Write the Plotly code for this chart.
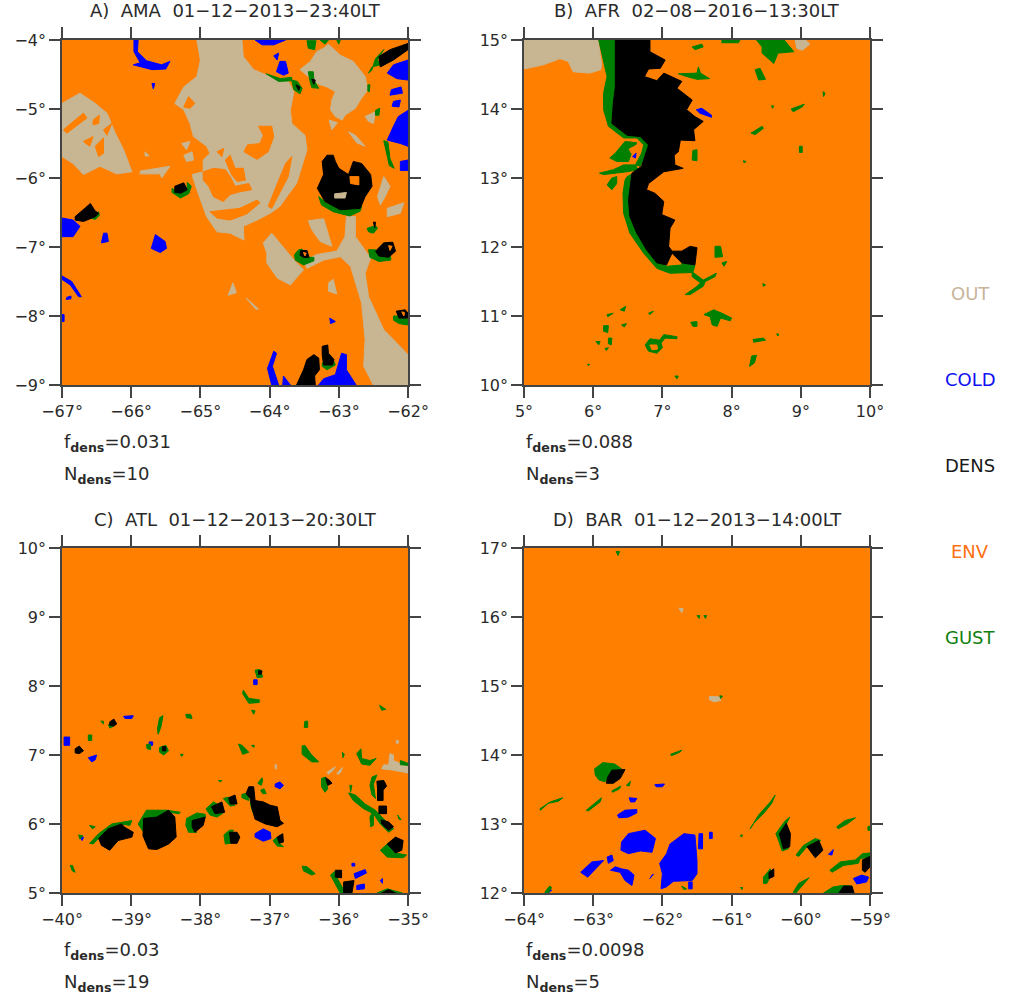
import plotly.graph_objects as go

# ---------- classes ----------
CLASS_NAMES = ["OUT", "COLD", "DENS", "ENV", "GUST"]
TAN, BLUE, BLACK, ORANGE, GREEN = "#C8B591", "#0000FF", "#000000", "#FF7F00", "#008000"

# ---------- panel A (lon, lat regions, degrees) ----------
A_OUT = [
 [(-65.05,-4),(-64.40,-4),(-64.38,-4.24),(-64.23,-4.43),(-64.04,-4.51),(-63.73,-4.60),(-63.65,-4.75),(-63.70,-5.01),(-63.68,-5.21),(-63.49,-5.38),(-63.46,-5.59),(-63.53,-5.83),(-63.61,-6.08),(-63.73,-6.24),(-63.85,-6.41),(-63.99,-6.51),(-64.18,-6.61),(-64.38,-6.70),(-64.37,-6.90),(-64.57,-6.80),(-64.76,-6.78),(-64.91,-6.56),(-65.00,-6.32),(-65.05,-6.17),(-65.12,-5.95),(-64.96,-5.91),(-64.96,-5.74),(-64.86,-5.64),(-64.91,-5.54),(-65.10,-5.40),(-65.15,-5.21),(-65.24,-5.01),(-65.37,-4.92),(-65.24,-4.68),(-65.05,-4.53),(-65.00,-4.29)],
 [(-63.15,-4.06),(-62.98,-4.22),(-62.79,-4.31),(-62.62,-4.53),(-62.58,-4.72),(-62.69,-4.87),(-62.76,-4.99),(-62.91,-5.09),(-62.95,-5.16),(-63.05,-5.11),(-63.12,-5.01),(-63.10,-4.87),(-63.05,-4.75),(-63.17,-4.68),(-63.32,-4.63),(-63.46,-4.51),(-63.56,-4.43),(-63.41,-4.31),(-63.32,-4.17),(-63.22,-4.12)],
 [(-67,-4.92),(-66.74,-4.77),(-66.52,-4.92),(-66.35,-5.06),(-66.23,-5.35),(-66.11,-5.59),(-65.99,-5.91),(-66.21,-5.94),(-66.45,-5.83),(-66.69,-5.95),(-66.84,-5.79),(-67,-5.69)],
 [(-62.89,-6.56),(-62.76,-6.56),(-62.76,-6.85),(-62.54,-7.16),(-62.62,-7.38),(-62.57,-7.72),(-62.35,-8.20),(-62,-8.56),(-62,-9),(-62.50,-9),(-62.64,-8.73),(-62.62,-8.34),(-62.67,-7.81),(-62.83,-7.28),(-62.98,-7.14),(-63.22,-7.19),(-63.46,-7.31),(-63.51,-7.21),(-63.32,-7.11),(-63.03,-7.06),(-62.91,-6.85)],
 [(-63.97,-6.80),(-63.85,-6.94),(-63.63,-7.21),(-63.51,-7.33),(-63.70,-7.55),(-63.89,-7.45),(-64.04,-7.23),(-64.04,-7.09),(-64.09,-6.94)],
 [(-63.44,-6.62),(-63.22,-6.59),(-63.10,-6.99),(-63.27,-6.92),(-63.39,-6.75)],
 [(-63.15,-7.52),(-63.08,-7.47),(-63.03,-7.68),(-63.15,-7.64)],
 [(-62.86,-5.33),(-62.76,-5.38),(-62.62,-5.54),(-62.74,-5.49)],
 [(-62.62,-5.11),(-62.47,-5.04),(-62.50,-5.21),(-62.57,-5.18)],
 [(-62.35,-5.98),(-62.26,-6.12),(-62.33,-6.27),(-62.40,-6.39),(-62.44,-6.27)],
 [(-62.30,-6.44),(-62.06,-6.36),(-62.11,-6.51),(-62.30,-6.56)],
 [(-65.87,-5.90),(-65.44,-5.83),(-65.56,-6.00),(-65.58,-5.94),(-65.87,-5.94)],
 [(-65.27,-5.50),(-65.15,-5.47),(-65.20,-5.59)],
 [(-65.24,-5.67),(-65.12,-5.62),(-65.10,-5.74),(-65.20,-5.76)],
 [(-65.80,-5.62),(-65.74,-5.68),(-65.80,-5.68)],
 [(-64.53,-7.52),(-64.48,-7.66),(-64.60,-7.70)],
 [(-64.34,-7.74),(-64.16,-7.90),(-64.20,-7.90)],
 [(-63.14,-5.16),(-63.02,-5.20),(-63.10,-5.30)],
]
A_ENV = [
 [(-64.16,-5.25),(-63.97,-5.25),(-63.94,-5.40),(-64.02,-5.62),(-64.18,-5.73),(-64.37,-5.62),(-64.32,-5.52),(-64.14,-5.50),(-64.09,-5.38)],
 [(-64.96,-5.91),(-64.81,-5.86),(-64.64,-5.88),(-64.57,-5.98),(-64.50,-6.12),(-64.30,-6.08),(-64.26,-6.17),(-64.43,-6.20),(-64.57,-6.24),(-64.67,-6.34),(-64.81,-6.27),(-64.88,-6.12),(-64.96,-6.03)],
 [(-64.86,-6.49),(-64.62,-6.46),(-64.43,-6.44),(-64.18,-6.32),(-64.14,-6.36),(-64.33,-6.52),(-64.57,-6.61),(-64.76,-6.58)],
 [(-64.64,-5.74),(-64.57,-5.67),(-64.50,-5.86),(-64.38,-5.86),(-64.35,-6.03),(-64.47,-6.05),(-64.55,-5.95)],
 [(-63.77,-5.79),(-63.85,-5.98),(-63.94,-6.22),(-64.02,-6.41),(-63.97,-6.44),(-63.85,-6.22),(-63.73,-5.98),(-63.68,-5.69)],
 [(-64.76,-5.62),(-64.66,-5.57),(-64.69,-5.69)],
 [(-65.17,-4.82),(-65.08,-4.92),(-65.15,-4.99),(-65.24,-4.97)],
 [(-66.98,-5.30),(-66.69,-5.06),(-66.64,-5.13),(-66.93,-5.35)],
 [(-66.55,-5.16),(-66.46,-5.09),(-66.47,-5.21),(-66.55,-5.23)],
 [(-66.69,-5.47),(-66.55,-5.40),(-66.60,-5.54)],
 [(-66.52,-5.54),(-66.40,-5.42),(-66.40,-5.64),(-66.47,-5.69)],
 [(-66.40,-5.30),(-66.28,-5.21),(-66.35,-5.38)],
]
A_COLD = [
 [(-65.96,-4),(-65.90,-4),(-65.91,-4.17),(-65.78,-4.30),(-65.56,-4.36),(-65.44,-4.31),(-65.50,-4.42),(-65.70,-4.43),(-65.97,-4.36),(-65.87,-4.33),(-65.96,-4.17)],
 [(-64.21,-4),(-63.77,-4),(-63.94,-4.07),(-64.11,-4.07)],
 [(-63.85,-4.31),(-63.77,-4.31),(-63.73,-4.48),(-63.80,-4.51),(-63.90,-4.46)],
 [(-63.94,-4.23),(-63.87,-4.19),(-63.89,-4.29)],
 [(-65.70,-4.63),(-65.66,-4.63),(-65.68,-4.71)],
 [(-62,-4.29),(-62.21,-4.36),(-62.30,-4.48),(-62.16,-4.56),(-62,-4.58)],
 [(-62.24,-4.72),(-62.10,-4.68),(-62.08,-4.77),(-62.26,-4.80)],
 [(-62.21,-4.89),(-62.11,-4.87),(-62.13,-4.97),(-62.23,-4.96)],
 [(-62,-5.02),(-62.14,-5.11),(-62.21,-5.25),(-62.30,-5.45),(-62.11,-5.50),(-62,-5.54)],
 [(-62.11,-5.76),(-62,-5.74),(-62,-5.89),(-62.11,-5.89)],
 [(-67,-6.58),(-66.84,-6.61),(-66.74,-6.70),(-66.84,-6.85),(-67,-6.85)],
 [(-66.40,-6.80),(-66.35,-6.80),(-66.33,-6.92),(-66.43,-6.94)],
 [(-65.65,-6.82),(-65.51,-6.92),(-65.49,-7.02),(-65.58,-7.08),(-65.71,-7.02),(-65.68,-6.92)],
 [(-67,-7.42),(-66.86,-7.50),(-66.72,-7.72),(-66.76,-7.72),(-66.88,-7.55),(-67,-7.47)],
 [(-66.93,-7.73),(-66.87,-7.71),(-66.87,-7.75),(-66.94,-7.76)],
 [(-67,-7.98),(-66.97,-7.98),(-66.97,-8.08),(-67,-8.08)],
 [(-63.13,-8.03),(-63.05,-8.08),(-63.12,-8.11)],
 [(-62.96,-8.54),(-62.89,-8.56),(-62.89,-8.78),(-62.75,-9),(-63.29,-9),(-63.22,-8.91),(-63.05,-8.85),(-63,-8.68)],
 [(-63.94,-8.51),(-63.90,-8.54),(-63.96,-8.73),(-63.87,-9),(-63.97,-9),(-64.03,-8.76)],
 [(-63.80,-8.87),(-63.70,-9),(-63.81,-9)],
]
A_GUST = [
 [(-63.29,-6.27),(-63.17,-6.37),(-62.98,-6.45),(-62.67,-6.41),(-62.69,-6.48),(-62.84,-6.55),(-63.08,-6.49),(-63.25,-6.39)],
 [(-65.41,-6.15),(-65.29,-6.23),(-65.19,-6.16),(-65.19,-6.06),(-65.13,-6.12),(-65.17,-6.23),(-65.29,-6.29),(-65.41,-6.21)],
 [(-66.59,-6.58),(-66.47,-6.49),(-66.46,-6.54),(-66.52,-6.60)],
 [(-62.52,-4.43),(-62.47,-4.27),(-62.35,-4.14),(-62.44,-4.29),(-62.40,-4.36),(-62.52,-4.39),(-62.57,-4.48)],
 [(-64.05,-4.49),(-63.84,-4.56),(-63.68,-4.54),(-63.68,-4.59),(-63.87,-4.60)],
 [(-63.68,-4.58),(-63.60,-4.60),(-63.53,-4.70),(-63.56,-4.78),(-63.65,-4.72)],
 [(-63.44,-4.46),(-63.37,-4.46),(-63.36,-4.58),(-63.29,-4.70),(-63.39,-4.69),(-63.42,-4.58)],
 [(-63.46,-4.01),(-63.33,-4.01),(-63.35,-4.14),(-63.44,-4.12)],
 [(-63.27,-4),(-63.15,-4),(-63.20,-4.06)],
 [(-63.03,-4),(-62.98,-4),(-63.00,-4.06)],
 [(-62.35,-5.46),(-62.29,-5.48),(-62.26,-5.72),(-62.20,-5.86),(-62.27,-5.82),(-62.31,-5.63)],
 [(-62.58,-4.65),(-62.55,-4.65),(-62.56,-4.75),(-62.58,-4.74)],
 [(-62.47,-5.02),(-62.41,-4.99),(-62.42,-5.09),(-62.47,-5.09)],
 [(-63.58,-7.04),(-63.53,-7.03),(-63.51,-7.15),(-63.36,-7.15),(-63.36,-7.20),(-63.51,-7.26),(-63.63,-7.19),(-63.64,-7.11)],
 [(-62.57,-7.04),(-62.47,-7.04),(-62.42,-7.13),(-62.25,-7.14),(-62.25,-7.19),(-62.42,-7.21),(-62.55,-7.15)],
 [(-62.59,-6.73),(-62.47,-6.69),(-62.44,-6.73),(-62.50,-6.80),(-62.57,-6.78)],
 [(-62.21,-8.00),(-62.13,-8.00),(-62,-8.05),(-62,-8.13),(-62.13,-8.11),(-62.21,-8.06)],
 [(-63.24,-8.68),(-63.07,-8.66),(-63.05,-8.71),(-63.17,-8.78),(-63.24,-8.73)],
]
A_DENS = [
 [(-63.17,-5.67),(-63.08,-5.67),(-63.05,-5.76),(-63,-5.86),(-62.86,-5.95),(-62.79,-5.76),(-62.67,-5.79),(-62.54,-5.95),(-62.52,-6.12),(-62.62,-6.27),(-62.69,-6.44),(-62.98,-6.46),(-63.20,-6.34),(-63.31,-6.15),(-63.22,-5.95),(-63.24,-5.76)],
 [(-65.37,-6.12),(-65.24,-6.07),(-65.19,-6.17),(-65.28,-6.22),(-65.37,-6.21)],
 [(-66.81,-6.56),(-66.69,-6.46),(-66.59,-6.37),(-66.52,-6.48),(-66.47,-6.51),(-66.52,-6.56),(-66.69,-6.63),(-66.81,-6.61)],
 [(-62.42,-4.24),(-62.26,-4.14),(-62,-4.05),(-62,-4.14),(-62.21,-4.29),(-62.40,-4.39)],
 [(-63.55,-7.05),(-63.46,-7.05),(-63.43,-7.15),(-63.51,-7.15),(-63.56,-7.12)],
 [(-62.35,-6.94),(-62.22,-6.93),(-62.18,-7.06),(-62.28,-7.15),(-62.42,-7.13),(-62.47,-7.06)],
 [(-62.17,-7.93),(-62.04,-7.91),(-62,-7.96),(-62,-8.03),(-62.13,-8.03)],
 [(-63.61,-9),(-63.51,-8.78),(-63.46,-8.63),(-63.36,-8.56),(-63.29,-8.61),(-63.28,-8.78),(-63.35,-8.87),(-63.34,-9)],
 [(-63.24,-8.44),(-63.16,-8.42),(-63.15,-8.54),(-63.07,-8.63),(-63.09,-8.71),(-63.22,-8.71),(-63.24,-8.56)],
 [(-63.62,-4.65),(-63.56,-4.68),(-63.58,-4.73)],
 [(-63.39,-4.57),(-63.34,-4.58),(-63.36,-4.64)],
 [(-62.50,-6.64),(-62.47,-6.64),(-62.48,-6.72)],
]
A_TOP_ENV = [
 [(-62.84,-5.98),(-62.71,-5.98),(-62.71,-6.10),(-62.83,-6.08)],
 [(-63.51,-7.08),(-63.47,-7.09),(-63.49,-7.13)],
 [(-62.28,-6.98),(-62.23,-6.99),(-62.26,-7.05)],
 [(-62.09,-7.94),(-62.05,-7.95),(-62.06,-8.00)],
]
A_TOP_OUT = [[(-63.06,-6.23),(-62.89,-6.21),(-62.91,-6.29),(-63.06,-6.29)]]

# ---------- panel B ----------
B_OUT = [
 [(5,15),(6.07,15),(6.12,14.66),(6.11,14.57),(5.95,14.52),(5.71,14.54),(5.64,14.69),(5.52,14.73),(5.28,14.64),(5,14.58)],
 [(8.92,15),(9.07,15),(9.13,14.94),(9.02,14.85),(8.94,14.88)],
]
B_COLD = [
 [(7.49,13.99),(7.57,14.01),(7.71,13.91),(7.71,13.88),(7.54,13.94)],
 [(6.57,13.31),(6.62,13.36),(6.61,13.29)],
]
B_GUST = [
 [(6.08,15),(6.32,15),(6.32,14.32),(6.29,14.08),(6.27,13.79),(6.49,13.62),(6.68,13.65),(6.80,13.50),(6.75,13.31),(6.68,13.17),(6.61,13.19),(6.70,13.36),(6.73,13.48),(6.63,13.58),(6.44,13.58),(6.22,13.75),(6.15,13.99),(6.15,14.23),(6.20,14.47),(6.12,14.81)],
 [(6.49,13.02),(6.58,13.07),(6.52,12.68),(6.54,12.39),(6.77,11.96),(7.06,11.72),(7.28,11.74),(7.45,11.69),(7.44,11.63),(7.11,11.62),(6.92,11.69),(6.73,11.91),(6.53,12.20),(6.44,12.49),(6.43,12.78),(6.46,12.97)],
 [(6.32,13.36),(6.46,13.53),(6.63,13.51),(6.56,13.38),(6.51,13.24),(6.34,13.24),(6.24,13.29)],
 [(6.44,13.19),(6.61,13.19),(6.65,13.12),(6.49,13.09),(6.15,13.05),(6.09,13.07),(6.29,13.12)],
 [(6.27,13.00),(6.34,13.02),(6.34,12.92),(6.27,12.83),(6.20,12.90)],
 [(7.23,14.51),(7.50,14.52),(7.52,14.61),(7.55,14.52),(7.68,14.44),(7.50,14.43),(7.35,14.47)],
 [(7.43,14.90),(7.57,14.94),(7.59,14.90),(7.47,14.86)],
 [(7.86,15),(8.12,15),(8.10,14.96),(7.86,14.96)],
 [(8.36,15),(8.76,15),(8.90,14.83),(8.67,14.81),(8.61,14.66),(8.44,14.81),(8.44,14.90)],
 [(8.34,14.57),(8.41,14.59),(8.49,14.43),(8.39,14.42)],
 [(9.32,14.25),(9.35,14.23),(9.33,14.18)],
 [(8.86,14),(9.05,14.07),(9.02,14.03),(8.89,13.96)],
 [(8.58,14.05),(8.61,14.04),(8.59,14.01)],
 [(8.28,13.65),(8.44,13.75),(8.46,13.72),(8.34,13.63)],
 [(8.98,13.46),(9.02,13.46),(9.02,13.37),(8.98,13.37)],
 [(8.17,13.25),(8.21,13.24),(8.18,13.22)],
 [(7.44,13.40),(7.50,13.41),(7.50,13.25),(7.43,13.26)],
 [(7.76,12.01),(7.84,12.01),(7.87,11.86),(7.76,11.85)],
 [(7.86,11.77),(7.93,11.79),(7.89,11.72)],
 [(7.28,11.77),(7.40,11.82),(7.47,11.74),(7.45,11.66),(7.28,11.72)],
 [(7.43,11.64),(7.59,11.52),(7.78,11.62),(7.76,11.57),(7.62,11.50),(7.59,11.43),(7.40,11.31),(7.33,11.31),(7.50,11.43),(7.55,11.48),(7.43,11.57)],
 [(8.45,11.47),(8.49,11.45),(8.46,11.43)],
 [(7.60,11.02),(7.74,11.09),(7.86,11.04),(8.00,10.97),(7.98,10.93),(7.84,10.97),(7.79,10.85),(7.72,10.87),(7.69,10.99)],
 [(7.41,10.91),(7.50,10.92),(7.50,10.85),(7.44,10.85)],
 [(6.20,11.02),(6.29,11.04),(6.21,10.99)],
 [(6.39,11.09),(6.47,11.14),(6.45,11.07)],
 [(6.80,11.04),(6.87,11.07),(6.82,11.02)],
 [(6.15,10.86),(6.22,10.86),(6.21,10.76),(6.15,10.78)],
 [(6.41,10.87),(6.48,10.89),(6.45,10.84)],
 [(6.04,10.63),(6.10,10.63),(6.08,10.58)],
 [(6.22,10.68),(6.27,10.68),(6.26,10.58),(6.22,10.60)],
 [(6.17,10.53),(6.22,10.54),(6.19,10.50)],
 [(5.92,10.30),(5.95,10.30),(5.93,10.28)],
 [(7.18,10.13),(7.23,10.13),(7.21,10.09)],
 [(6.75,10.58),(6.82,10.67),(6.96,10.65),(7.02,10.73),(7.21,10.70),(7.21,10.67),(7.04,10.68),(6.98,10.61),(7.00,10.54),(6.92,10.46),(6.80,10.49)],
 [(8.31,10.66),(8.46,10.68),(8.49,10.65),(8.32,10.62)],
 [(8.65,10.74),(8.68,10.74),(8.67,10.71)],
 [(8.29,10.42),(8.36,10.43),(8.33,10.32),(8.26,10.27)],
]
B_DENS = [
 [(6.32,15),(6.82,15),(6.82,14.83),(7.04,14.71),(6.97,14.59),(6.80,14.58),(6.74,14.47),(6.92,14.41),(7.02,14.52),(7.28,14.40),(7.21,14.30),(7.43,14.13),(7.35,13.99),(7.47,13.89),(7.59,13.82),(7.45,13.70),(7.47,13.54),(7.26,13.55),(7.23,13.38),(7.17,13.33),(7.18,13.19),(7.30,13.14),(7.02,13.09),(6.80,12.92),(6.77,12.83),(6.89,12.78),(7.02,12.66),(6.99,12.47),(7.18,12.39),(7.11,12.27),(7.09,12.01),(7.14,11.94),(7.28,11.94),(7.40,12.01),(7.50,11.99),(7.47,11.74),(7.28,11.77),(7.14,11.91),(7.11,11.85),(7.06,11.74),(6.92,11.77),(6.77,11.96),(6.63,12.20),(6.53,12.44),(6.51,12.68),(6.56,13.07),(6.70,13.17),(6.73,13.26),(6.80,13.48),(6.68,13.60),(6.49,13.62),(6.27,13.79),(6.29,14.08),(6.32,14.32),(6.32,14.71)],
]
B_TOP_ENV = [
 [(6.82,10.58),(6.92,10.58),(6.93,10.52),(6.85,10.51)],
 [(6.52,13.42),(6.62,13.47),(6.60,13.38),(6.55,13.36)],
]

# ---------- panel C ----------
C_OUT = [
 [(-35.26,7.02),(-35.21,7.0),(-35.21,6.92),(-35,6.83),(-35,6.74),(-35.21,6.78),(-35.38,6.80),(-35.35,6.86),(-35.28,6.85)],
 [(-36.17,6.75),(-36.05,6.83),(-36.08,6.78),(-36.15,6.72)],
 [(-36.03,6.73),(-35.95,6.82),(-35.97,6.75),(-36.01,6.72)],
 [(-35.17,7.21),(-35.14,7.21),(-35.14,7.17),(-35.17,7.17)],
 [(-36.92,6.86),(-36.90,6.86),(-36.90,6.80),(-36.92,6.80)],
]
C_COLD = [
 [(-39.28,5.75),(-39.20,5.75),(-39.25,5.71)],
 [(-37.21,5.86),(-37.09,5.93),(-36.99,5.88),(-36.98,5.79),(-37.09,5.75),(-37.21,5.81)],
 [(-36.92,6.58),(-36.85,6.61),(-36.80,6.56),(-36.85,6.51),(-36.92,6.54)],
 [(-37.23,8.09),(-37.18,8.09),(-37.18,8.02),(-37.23,8.02)],
 [(-39.11,7.56),(-38.97,7.57),(-38.99,7.53),(-39.09,7.53)],
 [(-39.97,7.26),(-39.89,7.26),(-39.89,7.14),(-39.97,7.14)],
 [(-39.62,6.96),(-39.50,7.0),(-39.52,6.93),(-39.57,6.90)],
 [(-38.74,7.19),(-38.69,7.19),(-38.69,7.14),(-38.74,7.14)],
 [(-35.81,5.43),(-35.77,5.43),(-35.77,5.39),(-35.81,5.39)],
 [(-35.78,5.28),(-35.62,5.34),(-35.60,5.29),(-35.76,5.21)],
 [(-35.74,5.11),(-35.63,5.13),(-35.63,5.06),(-35.74,5.05)],
 [(-35.40,5.18),(-35.37,5.21),(-35.37,5.14)],
 [(-39.73,5.81),(-39.69,5.81),(-39.71,5.76)],
]
C_GUST = [
 [(-38.90,6.00),(-38.78,6.20),(-38.49,6.20),(-38.29,6.17),(-38.31,6.15),(-38.46,6.17),(-38.63,6.10),(-38.82,6.08),(-38.75,5.86),(-38.82,5.88)],
 [(-39.60,5.72),(-39.47,5.86),(-39.28,6.00),(-38.99,6.05),(-39.02,5.98),(-39.14,6.00),(-39.33,5.93),(-39.47,5.79),(-39.55,5.71)],
 [(-38.20,6.08),(-38.05,6.16),(-37.93,6.14),(-37.93,6.10),(-38.12,6.06),(-38.10,5.91),(-38.05,5.88),(-38.17,5.88),(-38.21,5.98)],
 [(-37.92,6.22),(-37.81,6.32),(-37.76,6.29),(-37.84,6.25),(-37.79,6.15),(-37.67,6.16),(-37.76,6.10),(-37.86,6.13)],
 [(-37.67,6.37),(-37.59,6.39),(-37.56,6.29),(-37.50,6.27),(-37.57,6.26)],
 [(-37.66,5.84),(-37.58,5.91),(-37.52,5.91),(-37.58,5.84),(-37.56,5.72),(-37.64,5.71)],
 [(-37.40,6.43),(-37.30,6.45),(-37.30,6.34),(-37.40,6.38)],
 [(-37.28,6.32),(-37.23,6.25),(-37.21,6.10),(-37.26,6.22)],
 [(-37.17,6.59),(-37.11,6.67),(-37.10,6.63),(-37.12,6.56)],
 [(-37.13,6.49),(-37.08,6.51),(-37.05,6.44),(-37.10,6.44)],
 [(-37.74,6.63),(-37.69,6.63),(-37.71,6.61)],
 [(-36.95,5.76),(-36.89,5.81),(-36.86,5.72),(-36.80,5.67),(-36.89,5.68)],
 [(-37.21,8.23),(-37.14,8.24),(-37.10,8.13),(-37.18,8.12)],
 [(-37.38,7.94),(-37.30,7.82),(-37.15,7.80),(-37.15,7.76),(-37.30,7.75),(-37.39,7.89)],
 [(-37.26,7.65),(-37.21,7.64),(-37.23,7.59)],
 [(-35.41,7.72),(-35.32,7.66),(-35.38,7.65)],
 [(-36.49,7.49),(-36.45,7.49),(-36.45,7.40),(-36.50,7.40)],
 [(-38.21,7.59),(-38.14,7.59),(-38.12,7.53),(-38.20,7.54)],
 [(-38.59,7.54),(-38.54,7.57),(-38.57,7.41),(-38.61,7.30),(-38.62,7.38)],
 [(-39.33,7.44),(-39.25,7.42),(-39.31,7.39)],
 [(-39.44,7.49),(-39.40,7.49),(-39.40,7.45)],
 [(-39.62,7.29),(-39.57,7.29),(-39.57,7.21),(-39.62,7.21)],
 [(-38.78,7.15),(-38.72,7.16),(-38.72,7.08),(-38.77,7.09)],
 [(-38.59,7.11),(-38.50,7.14),(-38.46,7.06),(-38.53,7.0),(-38.59,7.04)],
 [(-38.29,7.01),(-38.25,7.01),(-38.27,6.98)],
 [(-37.45,7.16),(-37.40,7.14),(-37.30,7.04),(-37.39,7.01)],
 [(-37.26,7.14),(-37.22,7.14),(-37.23,7.11)],
 [(-39.76,5.84),(-39.70,5.83),(-39.74,5.78)],
 [(-39.60,5.98),(-39.52,5.96),(-39.56,5.93)],
 [(-39.88,5.40),(-39.85,5.40),(-39.81,5.30),(-39.85,5.32)],
 [(-36.53,7.13),(-36.49,7.14),(-36.40,7.01),(-36.29,6.90),(-36.39,6.90),(-36.53,7.01)],
 [(-35.95,7.04),(-35.92,7.01),(-35.94,6.96)],
 [(-35.74,7.02),(-35.68,7.09),(-35.67,6.95),(-35.55,6.92),(-35.46,6.95),(-35.55,6.85),(-35.67,6.87)],
 [(-35.11,6.92),(-35,6.88),(-35,6.85),(-35.11,6.86)],
 [(-36.25,6.66),(-36.19,6.68),(-36.16,6.51),(-36.20,6.46),(-36.25,6.54)],
 [(-35.86,6.45),(-35.76,6.42),(-35.62,6.29),(-35.47,6.20),(-35.33,6.05),(-35.21,5.93),(-35.28,5.88),(-35.40,6.0),(-35.50,6.15),(-35.64,6.22),(-35.79,6.34)],
 [(-35.52,6.68),(-35.45,6.71),(-35.50,6.58),(-35.47,6.37),(-35.52,6.42),(-35.55,6.56)],
 [(-35.55,6.10),(-35.50,6.20),(-35.50,5.98),(-35.54,5.96)],
 [(-35.84,6.56),(-35.81,6.56),(-35.83,6.46)],
 [(-35.40,5.62),(-35.30,5.71),(-35.18,5.58),(-35.02,5.55),(-35.07,5.51),(-35.30,5.52)],
 [(-35.15,6.13),(-35.10,6.06),(-35.13,6.07)],
 [(-36.53,5.39),(-36.46,5.38),(-36.34,5.28),(-36.39,5.26),(-36.51,5.32)],
 [(-36.12,5.26),(-36.05,5.32),(-36.03,5.23),(-35.91,5.01),(-35.98,5.0),(-36.07,5.16)],
 [(-35.45,5),(-35.30,5.06),(-35.08,5)],
]
C_DENS = [
 [(-38.82,6.08),(-38.63,6.10),(-38.46,6.20),(-38.37,6.10),(-38.35,5.81),(-38.46,5.71),(-38.63,5.63),(-38.75,5.64),(-38.83,5.83)],
 [(-39.47,5.79),(-39.33,5.93),(-39.14,6.00),(-39.09,5.95),(-38.97,5.88),(-38.99,5.81),(-39.19,5.76),(-39.31,5.62),(-39.43,5.69)],
 [(-38.12,6.05),(-37.93,6.10),(-37.96,5.98),(-38.08,5.88),(-38.12,5.96)],
 [(-37.84,6.25),(-37.69,6.32),(-37.65,6.17),(-37.79,6.15)],
 [(-37.59,6.38),(-37.50,6.42),(-37.47,6.29),(-37.57,6.29)],
 [(-37.58,5.88),(-37.47,5.88),(-37.43,5.81),(-37.47,5.72),(-37.56,5.72)],
 [(-37.30,6.54),(-37.23,6.54),(-37.21,6.34),(-37.09,6.32),(-36.99,6.27),(-36.89,6.25),(-36.85,6.05),(-36.80,6.01),(-36.89,5.96),(-37.06,6.00),(-37.21,6.07),(-37.26,6.25),(-37.28,6.37),(-37.34,6.44)],
 [(-36.89,5.81),(-36.81,5.86),(-36.80,5.74),(-36.86,5.72)],
 [(-37.16,8.22),(-37.11,8.22),(-37.12,8.17),(-37.16,8.17)],
 [(-39.31,7.48),(-39.25,7.52),(-39.21,7.45),(-39.25,7.42),(-39.31,7.43)],
 [(-39.81,7.09),(-39.75,7.13),(-39.69,7.06),(-39.75,7.02),(-39.81,7.03)],
 [(-38.55,7.12),(-38.50,7.12),(-38.50,7.06),(-38.55,7.06)],
 [(-36.19,6.67),(-36.13,6.63),(-36.10,6.59),(-36.16,6.56)],
 [(-35.45,6.62),(-35.35,6.63),(-35.31,6.55),(-35.36,6.49),(-35.36,6.34),(-35.44,6.34),(-35.44,6.51)],
 [(-35.42,6.26),(-35.31,6.26),(-35.31,6.15),(-35.42,6.15)],
 [(-35.39,6.06),(-35.28,6.03),(-35.21,5.96),(-35.28,5.91),(-35.38,6.0)],
 [(-35.30,5.71),(-35.18,5.81),(-35.07,5.76),(-35.09,5.62),(-35.18,5.58)],
 [(-36.05,5.33),(-35.96,5.33),(-35.96,5.22),(-36.05,5.23)],
 [(-35.93,5.16),(-35.78,5.18),(-35.81,5.0),(-35.93,5.0)],
 [(-35.38,5),(-35.28,5.05),(-35.18,5)],
]

# ---------- panel D ----------
D_OUT = [
 [(-61.32,14.85),(-61.16,14.84),(-61.16,14.79),(-61.25,14.77),(-61.32,14.80)],
 [(-61.76,16.13),(-61.70,16.12),(-61.72,16.06)],
]
D_COLD = [
 [(-62.11,13.57),(-61.97,13.58),(-62.0,13.54),(-62.09,13.54)],
 [(-62.48,13.38),(-62.37,13.37),(-62.40,13.32),(-62.46,13.32)],
 [(-62.65,13.13),(-62.54,13.20),(-62.37,13.21),(-62.37,13.16),(-62.49,13.10),(-62.63,13.09)],
 [(-62.59,12.74),(-62.49,12.86),(-62.25,12.91),(-62.10,12.79),(-62.15,12.59),(-62.32,12.61),(-62.49,12.57),(-62.60,12.62)],
 [(-61.89,12.71),(-61.69,12.86),(-61.53,12.84),(-61.50,12.47),(-61.50,12.28),(-61.57,12.18),(-61.84,12.17),(-61.94,12.09),(-62.02,12.06),(-62.0,12.28),(-62.04,12.43),(-61.94,12.57)],
 [(-61.47,12.86),(-61.42,12.86),(-61.42,12.64),(-61.48,12.64)],
 [(-61.32,12.88),(-61.28,12.88),(-61.28,12.79),(-61.32,12.79)],
 [(-61.62,12.16),(-61.57,12.16),(-61.57,12.06),(-61.62,12.06)],
 [(-62.15,12.26),(-62.13,12.27),(-62.18,12.21)],
 [(-63.18,12.30),(-63.02,12.45),(-62.85,12.47),(-62.97,12.35),(-63.08,12.23)],
 [(-62.80,12.52),(-62.73,12.55),(-62.71,12.47),(-62.78,12.43)],
 [(-62.75,12.33),(-62.68,12.38),(-62.59,12.35),(-62.49,12.33),(-62.41,12.26),(-62.44,12.11),(-62.54,12.18),(-62.61,12.30)],
 [(-59.24,12.21),(-59.12,12.26),(-59.02,12.23),(-59.05,12.16),(-59.19,12.13)],
 [(-59.60,12.56),(-59.53,12.63),(-59.55,12.55)],
 [(-63.66,12.04),(-63.60,12.04),(-63.64,12.01)],
]
D_GUST = [
 [(-61.88,14.01),(-61.72,14.07),(-61.75,14.04),(-61.87,13.99)],
 [(-62.98,13.80),(-62.86,13.89),(-62.69,13.87),(-62.59,13.80),(-62.73,13.77),(-62.83,13.61),(-62.92,13.64),(-62.97,13.71)],
 [(-62.73,13.48),(-62.60,13.55),(-62.62,13.51),(-62.72,13.46)],
 [(-62.52,13.56),(-62.46,13.62),(-62.48,13.55)],
 [(-63.77,13.22),(-63.62,13.32),(-63.44,13.38),(-63.50,13.33),(-63.65,13.30),(-63.76,13.20)],
 [(-63.10,13.20),(-62.88,13.38),(-62.90,13.32),(-63.07,13.19)],
 [(-60.73,12.93),(-60.61,13.13),(-60.44,13.32),(-60.37,13.42),(-60.42,13.30),(-60.54,13.15),(-60.69,13.0)],
 [(-60.36,12.86),(-60.23,13.04),(-60.16,13.10),(-60.21,13.0),(-60.18,12.64),(-60.27,12.61),(-60.32,12.76)],
 [(-60.07,12.55),(-59.96,12.69),(-59.79,12.79),(-59.71,12.76),(-59.91,12.67),(-60.03,12.53)],
 [(-59.48,12.96),(-59.36,13.05),(-59.21,13.09),(-59.33,13.0),(-59.46,12.93)],
 [(-59.03,12.96),(-59,12.97),(-59,12.91),(-59.03,12.91)],
 [(-59.58,12.33),(-59.43,12.45),(-59.21,12.48),(-59.11,12.57),(-59,12.58),(-59,12.52),(-59.14,12.50),(-59.17,12.43),(-59.38,12.40),(-59.55,12.30)],
 [(-60.54,12.23),(-60.44,12.35),(-60.42,12.28),(-60.49,12.14),(-60.54,12.14)],
 [(-60.11,12.01),(-60.03,12.14),(-59.88,12.22),(-59.97,12.11),(-60.07,12.0)],
 [(-59.67,12.0),(-59.53,12.09),(-59.38,12.11),(-59.26,12.10),(-59.33,12.0)],
 [(-60.87,12.84),(-60.84,12.84),(-60.86,12.81)],
 [(-60.87,12.08),(-60.84,12.08),(-60.85,12.05)],
 [(-61.72,12.10),(-61.65,12.06),(-61.69,12.05)],
 [(-63.70,12.01),(-63.63,12.10),(-63.60,12.08),(-63.65,12)],
 [(-62.67,16.95),(-62.62,16.95),(-62.64,16.89)],
 [(-61.50,16.02),(-61.46,16.02),(-61.47,15.98)],
 [(-61.40,16.02),(-61.36,16.02),(-61.38,15.98)],
 [(-61.17,14.86),(-61.13,14.85),(-61.16,14.82)],
]
D_DENS = [
 [(-62.73,13.78),(-62.54,13.79),(-62.61,13.66),(-62.71,13.59),(-62.81,13.59),(-62.79,13.68)],
 [(-60.31,12.86),(-60.21,13.01),(-60.15,12.86),(-60.16,12.67),(-60.25,12.64)],
 [(-59.91,12.67),(-59.74,12.76),(-59.68,12.62),(-59.79,12.51)],
 [(-59.11,12.48),(-59,12.53),(-59,12.38),(-59.07,12.30),(-59.11,12.33)],
 [(-60.46,12.30),(-60.39,12.35),(-60.39,12.24),(-60.46,12.21)],
 [(-59.45,12),(-59.38,12.10),(-59.26,12.10),(-59.23,12)],
]

SP = "\u00a0\u00a0"
TITLES = ["A)" + SP + "AMA" + SP + "01\u221212\u22122013\u221223:40LT", "B)" + SP + "AFR" + SP + "02\u221208\u22122016\u221213:30LT",
          "C)" + SP + "ATL" + SP + "01\u221212\u22122013\u221220:30LT", "D)" + SP + "BAR" + SP + "01\u221212\u22122013\u221214:00LT"]
F_DENS = ["0.031", "0.088", "0.03", "0.0098"]
N_DENS = ["10", "3", "19", "5"]
X_RANGES = [(-67, -62), (5, 10), (-40, -35), (-64, -59)]
Y_RANGES = [(-9, -4), (10, 15), (5, 10), (12, 17)]

W, H = 1010, 998
FONT = "DejaVu Sans"
INK = "#2a2a2a"
BOXES = [(62, 408, 40, 385), (524, 870, 40, 385), (62, 408, 548, 893), (524, 870, 548, 893)]

PANELS = [
    [(A_OUT, TAN), (A_ENV, ORANGE), (A_COLD, BLUE), (A_GUST, GREEN), (A_DENS, BLACK), (A_TOP_ENV, ORANGE), (A_TOP_OUT, TAN)],
    [(B_OUT, TAN), (B_GUST, GREEN), (B_DENS, BLACK), (B_COLD, BLUE), (B_TOP_ENV, ORANGE)],
    [(C_OUT, TAN), (C_COLD, BLUE), (C_GUST, GREEN), (C_DENS, BLACK)],
    [(D_OUT, TAN), (D_COLD, BLUE), (D_GUST, GREEN), (D_DENS, BLACK)],
]


def flatten(polys):
    xs, ys = [], []
    for poly in polys:
        closed = list(poly) + [poly[0]]
        xs += [p[0] for p in closed] + [None]
        ys += [p[1] for p in closed] + [None]
    return xs, ys


fig = go.Figure()
layout = dict(width=W, height=H, margin=dict(l=0, r=0, t=0, b=0), showlegend=False,
              paper_bgcolor="white", plot_bgcolor=ORANGE, annotations=[])

for i, (layers, box) in enumerate(zip(PANELS, BOXES)):
    n = "" if i == 0 else str(i + 1)
    for polys, color in layers:
        xs, ys = flatten(polys)
        fig.add_trace(go.Scatter(x=xs, y=ys, mode="lines", fill="toself", fillcolor=color,
                                 line=dict(color=color, width=1), hoverinfo="skip",
                                 xaxis="x" + n, yaxis="y" + n))
    l, r, t, b = box
    common = dict(showgrid=False, zeroline=False, showline=True, linecolor="#444444", linewidth=1.5,
                  mirror="ticks", ticks="outside", ticklen=11, tickwidth=1.5, tickcolor="#444444",
                  automargin=False, dtick=1, ticksuffix="\u00b0", tickfont=dict(family=FONT, size=16, color=INK))
    layout["xaxis" + n] = dict(common, domain=[l / W, r / W], range=list(X_RANGES[i]), anchor="y" + n)
    layout["yaxis" + n] = dict(common, domain=[1 - b / H, 1 - t / H], range=list(Y_RANGES[i]), anchor="x" + n)
    cx = (l + r) / 2
    layout["annotations"] += [
        dict(x=cx / W, y=1 - (t - 29) / H, xref="paper", yref="paper", text=TITLES[i],
             showarrow=False, font=dict(family=FONT, size=18, color=INK), xanchor="center", yanchor="middle"),
        dict(x=l / W, y=1 - (b + 58) / H, xref="paper", yref="paper", text="f<sub><b>dens</b></sub>=" + F_DENS[i],
             showarrow=False, font=dict(family=FONT, size=18, color=INK), xanchor="left", yanchor="middle"),
        dict(x=l / W, y=1 - (b + 90) / H, xref="paper", yref="paper", text="N<sub><b>dens</b></sub>=" + N_DENS[i],
             showarrow=False, font=dict(family=FONT, size=18, color=INK), xanchor="left", yanchor="middle"),
    ]

LEG_COLORS = ["#C8B49A", "#1010F0", "#1a1a1a", "#FF7010", "#108010"]
LEG_Y = [293, 379, 465, 551, 637]
for name, col, y in zip(CLASS_NAMES, LEG_COLORS, LEG_Y):
    layout["annotations"].append(dict(x=970 / W, y=1 - y / H, xref="paper", yref="paper", text=name, showarrow=False,
                                      font=dict(family=FONT, size=18, color=col), xanchor="center", yanchor="middle"))

fig.update_layout(**layout)
fig.write_html("out.html", config={"displayModeBar": False}, post_script="document.body.style.margin='0';")
